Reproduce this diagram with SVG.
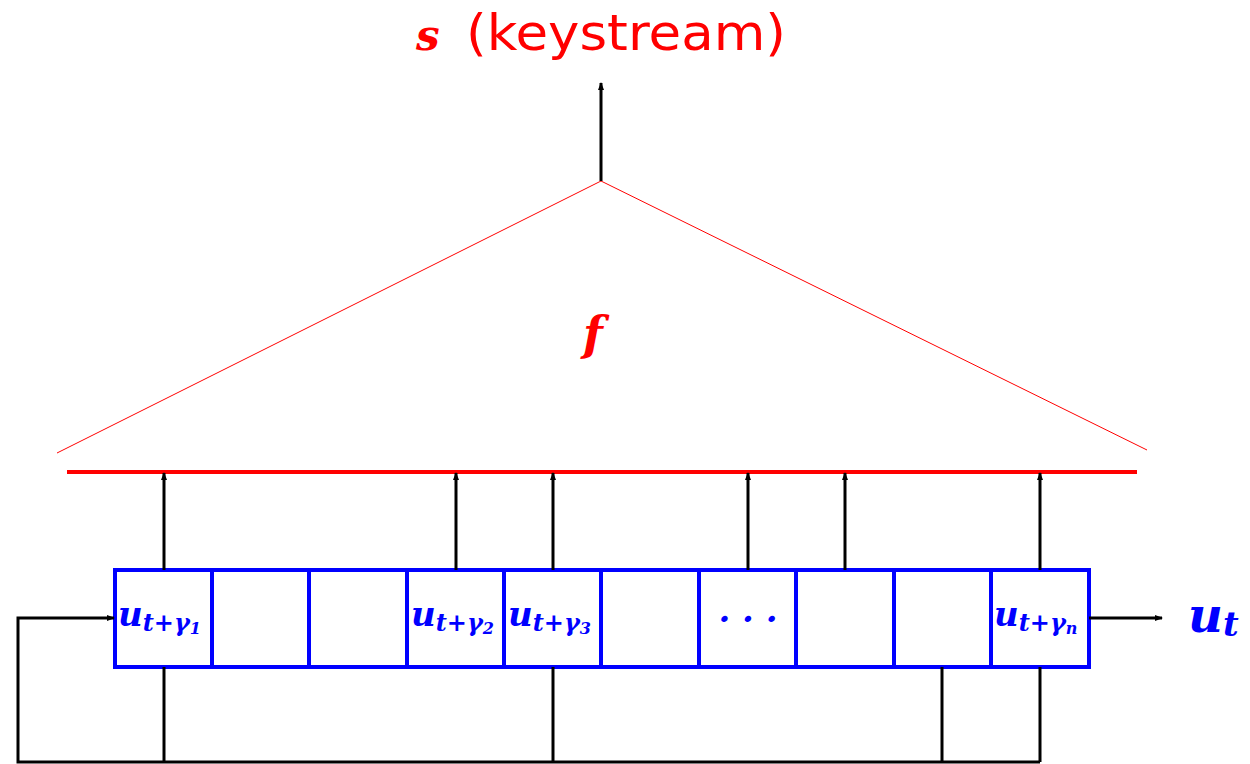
<svg xmlns="http://www.w3.org/2000/svg" width="1250" height="764" viewBox="0 0 1250 764">
<defs>
<marker id="ah" markerWidth="8" markerHeight="6" refX="7" refY="3" orient="auto" markerUnits="userSpaceOnUse">
<path d="M0,0 L8,3 L0,6 Z" fill="#000"/>
</marker>
<style>
.conn{stroke:#000;stroke-width:3;fill:none}
.cell{fill:none;stroke:#0000ff;stroke-width:4}
.math{font-family:"DejaVu Serif","Liberation Serif",serif;font-weight:bold;font-style:italic}
.lbl{fill:#0000ff}
.red{fill:#ff0000}
</style>
</defs>
<rect width="1250" height="764" fill="#fff"/>

<g id="title">
<text x="416" y="50" class="math red" font-size="42">s</text>
<text x="466" y="50" class="red" font-family="DejaVu Sans, sans-serif" font-size="50" textLength="320" lengthAdjust="spacingAndGlyphs">(keystream)</text>
</g>

<g id="f-node">
<polyline points="57,453 601,181 1147,450" fill="none" stroke="#ff0000" stroke-width="1"/>
<line x1="67" y1="472" x2="1137" y2="472" stroke="#ff0000" stroke-width="4"/>
<text x="583" y="350" class="math red" font-size="46">f</text>
</g>

<g id="register">
<rect x="115" y="570" width="974" height="97" class="cell"/>
<line x1="212" y1="570" x2="212" y2="667" class="cell"/>
<line x1="309" y1="570" x2="309" y2="667" class="cell"/>
<line x1="407" y1="570" x2="407" y2="667" class="cell"/>
<line x1="504" y1="570" x2="504" y2="667" class="cell"/>
<line x1="601" y1="570" x2="601" y2="667" class="cell"/>
<line x1="699" y1="570" x2="699" y2="667" class="cell"/>
<line x1="796" y1="570" x2="796" y2="667" class="cell"/>
<line x1="894" y1="570" x2="894" y2="667" class="cell"/>
<line x1="991" y1="570" x2="991" y2="667" class="cell"/>
</g>

<g id="cell1"><text x="118" y="626" class="math lbl" font-size="34">u<tspan font-size="24" dy="5">t+γ</tspan><tspan font-size="16" dy="3">1</tspan></text></g>
<g id="cell4"><text x="411" y="626" class="math lbl" font-size="34">u<tspan font-size="24" dy="5">t+γ</tspan><tspan font-size="16" dy="3">2</tspan></text></g>
<g id="cell5"><text x="508" y="626" class="math lbl" font-size="34">u<tspan font-size="24" dy="5">t+γ</tspan><tspan font-size="16" dy="3">3</tspan></text></g>
<g id="cell7"><text x="748" y="631" class="math lbl" font-size="34" text-anchor="middle" font-style="normal">· · ·</text></g>
<g id="cell10"><text x="994" y="626" class="math lbl" font-size="34">u<tspan font-size="24" dy="5">t+γ</tspan><tspan font-size="16" dy="3">n</tspan></text></g>

<g id="output"><text x="1188" y="632" class="math lbl" font-size="48">u<tspan font-size="34" dy="4">t</tspan></text></g>

<g id="connectors">
<line x1="601" y1="181" x2="601" y2="83" class="conn" marker-end="url(#ah)"/>
<line x1="164" y1="570" x2="164" y2="473" class="conn" marker-end="url(#ah)"/>
<line x1="456" y1="570" x2="456" y2="473" class="conn" marker-end="url(#ah)"/>
<line x1="553" y1="570" x2="553" y2="473" class="conn" marker-end="url(#ah)"/>
<line x1="748" y1="570" x2="748" y2="473" class="conn" marker-end="url(#ah)"/>
<line x1="845" y1="570" x2="845" y2="473" class="conn" marker-end="url(#ah)"/>
<line x1="1040" y1="570" x2="1040" y2="473" class="conn" marker-end="url(#ah)"/>
<line x1="1089" y1="618" x2="1162" y2="618" class="conn" marker-end="url(#ah)"/>
<line x1="164" y1="667" x2="164" y2="762" class="conn"/>
<line x1="553" y1="667" x2="553" y2="762" class="conn"/>
<line x1="942" y1="667" x2="942" y2="762" class="conn"/>
<line x1="1040" y1="667" x2="1040" y2="762" class="conn"/>
<polyline points="1040,762 18,762 18,618 114,618" class="conn" marker-end="url(#ah)"/>
</g>
</svg>
